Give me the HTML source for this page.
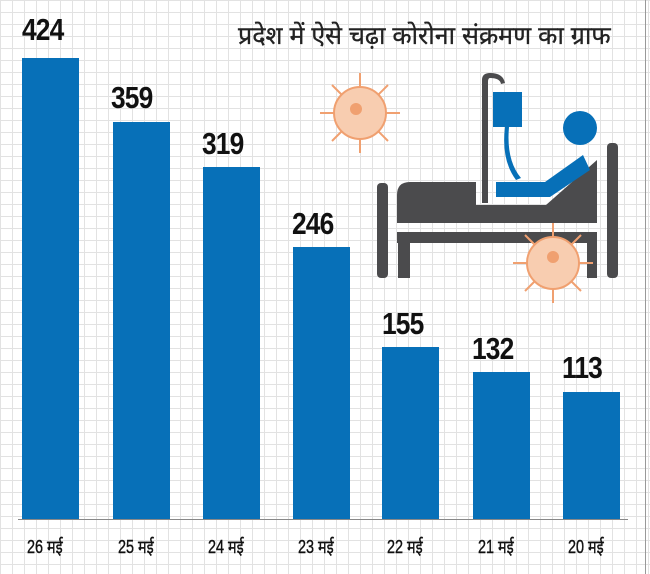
<!DOCTYPE html>
<html><head><meta charset="utf-8"><style>
body{margin:0;width:650px;height:574px;overflow:hidden;background:#fff;
background-image:linear-gradient(#e2e2e2 1px,transparent 1px),linear-gradient(90deg,#e2e2e2 1px,transparent 1px);background-size:12px 12px;position:relative;font-family:"Liberation Sans","Noto Sans CJK SC",sans-serif}
.b{position:absolute;background:#0770b8;width:57px;bottom:54px}
.n{position:absolute;font-weight:bold;font-size:31px;color:#111;transform:scaleX(.85);transform-origin:left;letter-spacing:-1px}
.l{position:absolute;top:535px;font-size:18px;color:#111;transform:scaleX(.8);transform-origin:left;-webkit-text-stroke:0.4px #111}
</style></head><body>
<div style="position:absolute;right:4px;top:0;bottom:0;width:1px;background:#999"></div>
<div style="position:absolute;left:238px;top:18px;font-size:25px;color:#222;white-space:nowrap;-webkit-text-stroke:0.3px #222">प्रदेश में ऐसे चढ़ा कोरोना संक्रमण का ग्राफ</div>
<div class="b" style="left:22px;top:58px"></div><div class="n" style="left:22px;top:12px">424</div>
<div class="b" style="left:113px;top:122px"></div><div class="n" style="left:111px;top:80px">359</div>
<div class="b" style="left:203px;top:167px"></div><div class="n" style="left:202px;top:126px">319</div>
<div class="b" style="left:293px;top:247px"></div><div class="n" style="left:292px;top:206px">246</div>
<div class="b" style="left:382px;top:347px"></div><div class="n" style="left:382px;top:306px">155</div>
<div class="b" style="left:473px;top:372px"></div><div class="n" style="left:472px;top:331px">132</div>
<div class="b" style="left:563px;top:392px"></div><div class="n" style="left:562px;top:350px">113</div>
<div style="position:absolute;left:18px;width:610px;top:519px;height:1px;background:#888"></div>
<div class="l" style="left:27px">26 मई</div><div class="l" style="left:118px">25 मई</div>
<div class="l" style="left:208px">24 मई</div><div class="l" style="left:298px">23 मई</div>
<div class="l" style="left:387px">22 मई</div><div class="l" style="left:478px">21 मई</div>
<div class="l" style="left:568px">20 मई</div>
<svg width="650" height="574" style="position:absolute;left:0;top:0">
<g fill="#4b4b4d">
<rect x="377" y="183" width="11" height="95" rx="4"/>
<rect x="607" y="143" width="11" height="135" rx="4"/>
<path d="M397 195 Q397 182 410 182 L476 182 L476 205 L546 205 L597 160 L597 223 L397 223Z"/>
<rect x="397" y="232" width="200" height="11"/>
<rect x="398" y="232" width="12" height="46"/>
<rect x="587" y="232" width="10" height="46"/>
<path d="M482 203 L482 80 Q482 73 490 73 Q503 73 505 83 L501 84 Q500 78 490 78 Q488 78 488 82 L488 203Z"/>
</g>
<g fill="#0770b8">
<rect x="493" y="92" width="29" height="35"/>
<path d="M505 127 L509 127 Q506 160 521 178 L516 180 Q501 160 505 127Z"/>
<circle cx="580" cy="128" r="17"/>
<path d="M496 182 L545 182 L583 155 L590 170 L550 197 L496 197Z"/>
</g>
<g stroke="#f0a070" stroke-width="2" fill="#f8cdb0">
<g transform="translate(360,113)"><circle r="26"/><path d="M0-26V-40M0 26V40M-26 0H-40M26 0H40M18-18L28-28M-18 18L-28 28M18 18L28 28M-18-18L-28-28" fill="none"/><circle cx="-4" cy="-4" r="6" fill="#f0a070" stroke="none"/></g>
<g transform="translate(553,263)"><circle r="26"/><path d="M0-26V-40M0 26V40M-26 0H-40M26 0H40M18-18L28-28M-18 18L-28 28M18 18L28 28M-18-18L-28-28" fill="none"/><circle cx="0" cy="-6" r="6" fill="#f0a070" stroke="none"/></g>
</g>
</svg>
</body></html>
